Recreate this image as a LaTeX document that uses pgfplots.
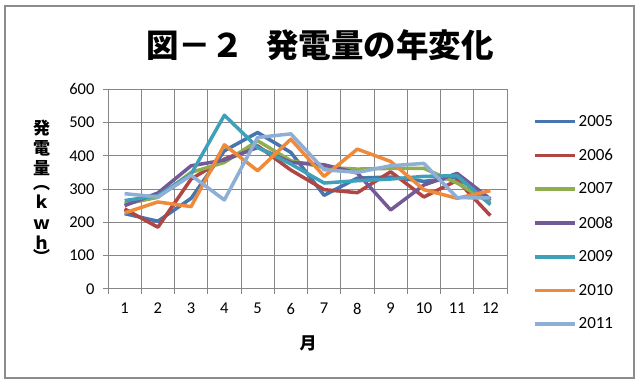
\documentclass[border=0pt]{standalone}
\usepackage{fontspec}
\setmainfont{Carlito}
\newfontfamily\jp{Noto Sans CJK JP}
\usepackage{pgfplots}
\pgfplotsset{compat=1.18}
\definecolor{c2005}{HTML}{4675B0}
\definecolor{c2006}{HTML}{B04643}
\definecolor{c2007}{HTML}{8FAE50}
\definecolor{c2008}{HTML}{735995}
\definecolor{c2009}{HTML}{3FA0BA}
\definecolor{c2010}{HTML}{EE8A3A}
\definecolor{c2011}{HTML}{8EAED6}
\definecolor{gridgray}{HTML}{868686}
\definecolor{framegray}{HTML}{8C8C8C}
\pgfplotstableread{
m  a2005 a2006 a2007 a2008 a2009 a2010 a2011
1  226   240   255   250   265   228   286
2  203   185   275   288   280   261   276
3  272   330   350   370   345   247   341
4  415   390   380   387   522   433   267
5  470   430   445   425   425   355   455
6  410   357   385   380   375   450   466
7  281   298   365   373   318   338   358
8  333   289   360   348   325   420   350
9  336   352   362   237   330   383   370
10 323   276   362   312   338   298   377
11 335   326   318   347   340   272   274
12 265   220   258   270   253   295   273
}\data
\begin{document}
\begin{tikzpicture}[x=1pt,y=1pt]
\path[use as bounding box] (0,0) rectangle (640,384);
\draw[framegray, line width=1.5pt] (5,6) rectangle (634,378);
\node[font=\jp\bfseries\fontsize{32.5}{32.5}\selectfont] at (320,339) {図－２\hspace{0.7em}発電量の年変化};
\begin{scope}[every node/.style={font=\jp\bfseries\fontsize{17}{17}\selectfont, inner sep=0pt}]
\node at (41.7,256) {発};
\node at (41.7,236) {電};
\node at (41.7,216) {量};
\node[rotate=-90] at (41.7,201) {（};
\node at (41.7,182) {ｋ};
\node at (41.7,159) {ｗ};
\node at (41.7,141) {ｈ};
\node[rotate=-90] at (41.7,127) {）};
\node at (308,41) {月};
\end{scope}
\begin{axis}[
  scale only axis, width=399pt, height=199.4pt,
  at={(108pt,95.3pt)}, anchor=south west,
  xmin=0.5, xmax=12.5, ymin=0, ymax=600,
  xtick={1,...,12}, ytick={0,100,...,600},
  minor xtick={0.5,1.5,...,12.5},
  xminorgrids=true, ymajorgrids=true, xmajorgrids=false,
  grid style={gridgray, line width=1pt},
  minor grid style={gridgray, line width=1pt},
  axis line style={gridgray, line width=1pt},
  tick pos=left, tick align=outside,
  major tick length=5pt, minor tick length=5pt,
  major x tick style={draw=none},
  every tick/.style={gridgray, line width=1pt},
  minor tick style={gridgray, line width=1pt},
  /pgf/number format/assume math mode=true,
  ticklabel style={font=\fontsize{16.5}{16.5}\selectfont, text=black},
  xticklabel style={yshift=-6pt},
  yticklabel style={xshift=-5pt},
  legend style={at={(1.065,0.88)}, anchor=north west, draw=none, fill=none,
    font=\fontsize{17}{17}\selectfont, row sep=17pt, inner sep=0pt},
  legend cell align=left,
  legend image code/.code={\draw[#1] (0pt,0pt) -- (40pt,0pt);},
  every axis plot/.append style={line width=3.5pt, line join=round, mark=none},
]
\addplot[c2005] table[x=m,y=a2005]{\data};
\addplot[c2006] table[x=m,y=a2006]{\data};
\addplot[c2007] table[x=m,y=a2007]{\data};
\addplot[c2008] table[x=m,y=a2008]{\data};
\addplot[c2009] table[x=m,y=a2009]{\data};
\addplot[c2010] table[x=m,y=a2010]{\data};
\addplot[c2011] table[x=m,y=a2011]{\data};
\legend{2005,2006,2007,2008,2009,2010,2011}
\end{axis}
\end{tikzpicture}
\end{document}
